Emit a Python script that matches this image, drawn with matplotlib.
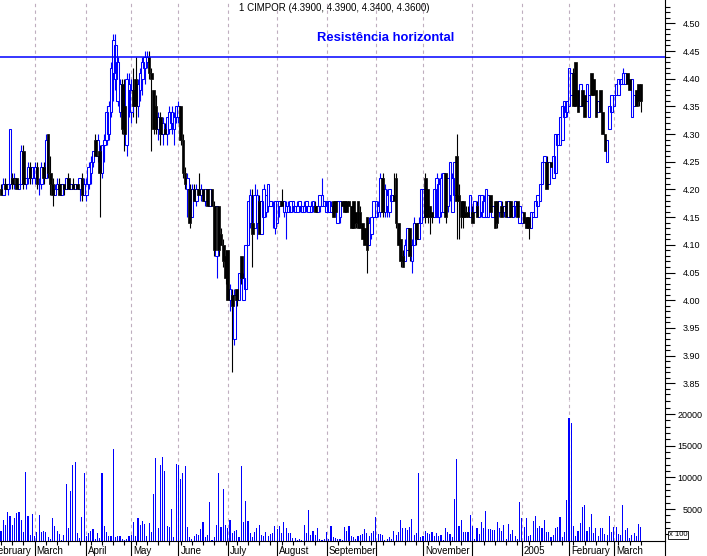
import numpy as np
import matplotlib
matplotlib.use('Agg')
import matplotlib.pyplot as plt
from matplotlib.transforms import blended_transform_factory

# daily OHLC, CIMPOR, Feb 2004 - Mar 2005 (one row per month)
opens = [
    4.20,4.19,4.21,4.20,4.21,4.22,4.21,4.22,4.20,4.21,4.27,4.21,4.22,4.24,4.22,
    4.22,4.24,4.21,4.21,4.24,4.22,4.30,4.23,4.21,4.19,4.20,4.21,4.19,4.21,4.20,4.22,4.20,4.21,4.20,4.21,4.20,4.22,4.19,
    4.19,4.21,4.23,4.25,4.29,4.26,4.27,4.23,4.28,4.29,4.30,4.34,4.41,4.40,4.36,4.34,4.39,4.35,4.28,4.38,
    4.34,4.38,4.40,4.35,4.38,4.40,4.42,4.43,4.44,4.41,4.38,4.35,4.31,4.33,4.30,4.31,4.30,4.31,4.32,4.31,4.33,
    4.33,4.35,4.29,4.23,4.20,4.20,4.15,4.20,4.18,4.20,4.19,4.20,4.18,4.20,4.17,4.20,4.17,4.08,4.17,4.12,4.10,4.08,
    4.09,4.00,4.01,3.93,4.02,4.00,4.08,4.00,4.02,4.10,4.14,4.14,4.13,4.14,4.18,4.12,4.15,4.16,4.17,4.17,4.17,4.13,
    4.14,4.17,4.18,4.16,4.16,4.16,4.16,4.17,4.16,4.16,4.17,4.16,4.16,4.17,4.16,4.16,4.17,4.17,4.16,4.17,4.17,4.17,
    4.16,4.16,4.16,4.18,4.18,4.14,4.15,4.18,4.18,4.18,4.18,4.17,4.18,4.16,4.18,4.16,4.14,4.13,4.15,4.10,4.12,4.15,
    4.15,4.16,4.16,4.22,4.16,4.17,4.16,4.18,4.19,4.22,4.14,4.11,4.08,4.07,4.09,4.13,4.07,4.10,4.14,4.11,4.14,
    4.15,4.22,4.20,4.17,4.16,4.15,4.15,4.15,4.16,4.16,4.23,4.17,4.19,4.16,4.19,4.26,4.19,4.18,4.18,4.16,4.16,4.15,
    4.16,4.16,4.17,4.15,4.16,4.15,4.15,4.15,4.19,4.15,4.18,4.18,4.16,4.17,4.16,4.18,4.15,4.18,4.15,4.17,4.18,4.14,
    4.14,4.16,4.15,4.15,4.13,4.15,4.15,4.17,4.18,4.21,4.25,4.25,4.21,4.25,4.22,4.23,4.28,4.28,4.29,4.33,4.34,
    4.35,4.37,4.41,4.43,4.38,4.35,4.38,4.37,4.36,4.33,4.41,4.40,4.38,4.34,4.38,4.34,4.30,4.25,4.31,4.34,
    4.35,4.37,4.37,4.39,4.39,4.39,4.41,4.40,4.33,4.35,4.38,4.39,4.39,
]
highs = [
    4.21,4.22,4.22,4.21,4.31,4.23,4.23,4.22,4.21,4.28,4.28,4.22,4.25,4.25,4.24,
    4.25,4.25,4.22,4.25,4.25,4.30,4.30,4.26,4.22,4.21,4.22,4.22,4.21,4.21,4.22,4.23,4.21,4.22,4.21,4.21,4.22,4.23,4.22,
    4.22,4.25,4.26,4.27,4.30,4.30,4.28,4.28,4.30,4.35,4.36,4.43,4.48,4.48,4.44,4.40,4.40,4.40,4.41,4.41,
    4.40,4.42,4.44,4.40,4.42,4.44,4.45,4.45,4.45,4.42,4.38,4.37,4.34,4.34,4.33,4.32,4.33,4.35,4.35,4.34,4.35,
    4.36,4.35,4.30,4.24,4.23,4.21,4.21,4.21,4.21,4.23,4.21,4.20,4.20,4.20,4.20,4.20,4.18,4.17,4.17,4.13,4.11,4.09,
    4.09,4.03,4.02,4.02,4.02,4.05,4.08,4.05,4.10,4.18,4.20,4.20,4.21,4.20,4.19,4.18,4.21,4.19,4.21,4.18,4.18,4.18,
    4.18,4.18,4.20,4.18,4.18,4.18,4.18,4.18,4.17,4.18,4.18,4.17,4.18,4.18,4.17,4.18,4.18,4.18,4.17,4.19,4.22,4.18,
    4.18,4.18,4.18,4.18,4.18,4.18,4.18,4.18,4.18,4.18,4.18,4.17,4.18,4.16,4.18,4.17,4.14,4.13,4.15,4.15,4.15,4.18,
    4.18,4.18,4.23,4.23,4.21,4.20,4.20,4.19,4.23,4.23,4.14,4.11,4.09,4.11,4.13,4.13,4.11,4.15,4.14,4.15,4.20,
    4.20,4.23,4.20,4.17,4.16,4.20,4.23,4.22,4.23,4.23,4.23,4.22,4.25,4.23,4.25,4.30,4.21,4.18,4.18,4.17,4.17,4.19,
    4.17,4.18,4.18,4.19,4.19,4.19,4.20,4.19,4.19,4.17,4.18,4.18,4.18,4.18,4.17,4.18,4.18,4.18,4.17,4.18,4.18,4.17,
    4.16,4.16,4.15,4.15,4.16,4.16,4.18,4.19,4.21,4.25,4.26,4.26,4.25,4.25,4.26,4.30,4.30,4.33,4.35,4.36,4.36,
    4.42,4.41,4.42,4.43,4.38,4.39,4.38,4.37,4.39,4.37,4.41,4.40,4.38,4.36,4.38,4.34,4.30,4.29,4.35,4.37,
    4.37,4.39,4.40,4.40,4.42,4.41,4.41,4.40,4.40,4.37,4.38,4.39,4.39,
]
lows = [
    4.19,4.19,4.19,4.19,4.20,4.20,4.20,4.20,4.20,4.21,4.20,4.20,4.21,4.21,4.21,
    4.21,4.20,4.19,4.20,4.21,4.22,4.22,4.19,4.17,4.19,4.20,4.19,4.19,4.19,4.20,4.20,4.20,4.20,4.20,4.20,4.18,4.18,4.19,
    4.18,4.20,4.21,4.24,4.26,4.25,4.15,4.22,4.25,4.28,4.29,4.33,4.36,4.38,4.35,4.33,4.30,4.27,4.26,4.33,
    4.32,4.33,4.32,4.33,4.36,4.37,4.39,4.42,4.40,4.27,4.30,4.30,4.29,4.28,4.28,4.30,4.28,4.30,4.30,4.28,4.32,
    4.32,4.28,4.22,4.20,4.15,4.13,4.15,4.18,4.17,4.19,4.18,4.18,4.17,4.17,4.17,4.17,4.08,4.04,4.08,4.10,4.06,4.03,
    4.00,3.98,3.87,3.92,3.99,4.00,4.03,4.00,4.02,4.10,4.13,4.06,4.13,4.11,4.12,4.12,4.15,4.15,4.16,4.17,4.13,4.12,
    4.14,4.15,4.17,4.15,4.11,4.16,4.16,4.16,4.16,4.16,4.16,4.16,4.16,4.16,4.16,4.16,4.16,4.16,4.16,4.16,4.17,4.17,
    4.16,4.16,4.16,4.15,4.15,4.14,4.14,4.17,4.16,4.16,4.17,4.13,4.13,4.13,4.13,4.13,4.11,4.10,4.05,4.10,4.11,4.15,
    4.15,4.15,4.15,4.15,4.15,4.15,4.15,4.18,4.18,4.13,4.10,4.06,4.06,4.07,4.09,4.07,4.05,4.10,4.10,4.11,4.14,
    4.15,4.14,4.14,4.12,4.14,4.15,4.15,4.14,4.15,4.16,4.14,4.16,4.18,4.16,4.19,4.11,4.11,4.13,4.13,4.15,4.15,4.15,
    4.14,4.16,4.15,4.15,4.15,4.15,4.15,4.15,4.16,4.15,4.13,4.13,4.15,4.15,4.15,4.15,4.15,4.15,4.15,4.15,4.15,4.14,
    4.14,4.14,4.13,4.11,4.13,4.15,4.15,4.17,4.18,4.21,4.25,4.20,4.21,4.24,4.22,4.23,4.28,4.28,4.29,4.33,4.33,
    4.35,4.37,4.35,4.35,4.34,4.35,4.35,4.33,4.36,4.33,4.37,4.37,4.33,4.34,4.34,4.30,4.27,4.25,4.31,4.34,
    4.35,4.37,4.37,4.39,4.39,4.39,4.39,4.38,4.33,4.35,4.35,4.35,4.34,
]
closes = [
    4.19,4.21,4.20,4.21,4.31,4.21,4.22,4.20,4.21,4.27,4.21,4.22,4.24,4.22,4.24,
    4.24,4.21,4.21,4.24,4.22,4.29,4.23,4.21,4.19,4.20,4.21,4.19,4.21,4.20,4.22,4.20,4.21,4.20,4.21,4.20,4.22,4.19,4.21,
    4.21,4.24,4.25,4.27,4.26,4.29,4.23,4.28,4.29,4.34,4.35,4.42,4.47,4.46,4.43,4.39,4.31,4.30,4.40,4.39,
    4.38,4.35,4.35,4.39,4.41,4.43,4.44,4.44,4.41,4.40,4.31,4.31,4.33,4.30,4.32,4.30,4.33,4.34,4.34,4.33,4.35,
    4.35,4.29,4.23,4.21,4.22,4.14,4.20,4.18,4.20,4.19,4.20,4.18,4.20,4.17,4.20,4.17,4.09,4.17,4.09,4.10,4.07,4.04,
    4.00,4.02,3.99,4.01,4.00,4.05,4.04,4.04,4.10,4.18,4.19,4.12,4.19,4.19,4.12,4.18,4.20,4.19,4.21,4.18,4.17,4.18,
    4.18,4.18,4.17,4.18,4.17,4.17,4.18,4.18,4.17,4.17,4.18,4.17,4.17,4.18,4.17,4.17,4.18,4.16,4.17,4.19,4.19,4.18,
    4.18,4.18,4.17,4.15,4.16,4.18,4.18,4.17,4.16,4.16,4.17,4.13,4.13,4.14,4.13,4.13,4.11,4.10,4.09,4.14,4.15,4.18,
    4.18,4.17,4.22,4.16,4.20,4.19,4.20,4.19,4.18,4.14,4.10,4.07,4.06,4.10,4.13,4.08,4.10,4.14,4.11,4.14,4.20,
    4.20,4.15,4.15,4.15,4.15,4.20,4.22,4.21,4.22,4.23,4.15,4.22,4.25,4.22,4.25,4.18,4.18,4.15,4.15,4.15,4.15,4.19,
    4.14,4.18,4.15,4.19,4.19,4.18,4.20,4.19,4.16,4.17,4.13,4.14,4.18,4.15,4.17,4.15,4.18,4.15,4.17,4.18,4.15,4.17,
    4.16,4.14,4.13,4.13,4.16,4.16,4.18,4.19,4.21,4.25,4.26,4.20,4.25,4.24,4.26,4.30,4.30,4.33,4.35,4.36,4.36,
    4.42,4.41,4.35,4.35,4.34,4.39,4.35,4.33,4.39,4.37,4.37,4.37,4.33,4.36,4.34,4.30,4.27,4.29,4.35,4.37,
    4.37,4.39,4.40,4.40,4.41,4.41,4.39,4.38,4.40,4.37,4.35,4.36,4.36,
]
# volume in units of 100 shares
volume = [
    1580,3310,2520,4580,3950,2520,3630,4420,4580,3310,
    1420,10890,3950,950,4260,790,1420,4100,1420,1580,
    1420,630,320,3630,2370,1580,1100,160,950,8990,
    2050,7890,11990,12470,1260,470,3790,10730,790,1260,
    1580,1890,320,1260,470,10730,2370,1420,790,790,
    14520,630,790,790,320,160,320,790,950,3000,790,3630,
    2520,3160,2680,800,2840,1420,7420,13100,2050,11990,13260,
    11050,2370,2210,5050,630,12150,11990,9780,10730,11840,
    2210,630,320,790,1100,950,1890,3000,630,950,
    6150,160,630,2520,10730,2210,8210,2520,2050,3310,
    1260,1580,1740,630,11840,3000,6310,3160,1260,630,
    1420,2050,2520,950,790,1420,790,1100,1260,2370,
    1890,2370,1260,3000,2050,1260,1260,470,470,160,
    320,160,2520,1260,4890,950,1580,950,2050,320,160,
    320,1420,320,2370,630,470,320,320,160,2210,1580,
    2370,
    790,630,300,790,950,1100,1890,1260,790,1260,1580,
    3790,1100,1100,950,160,320,630,320,1580,950,
    1420,3310,2050,2050,1740,2210,3470,950,1260,10730,
    630,790,1580,1260,1100,1420,790,1260,790,950,
    160,2050,1420,1100,630,6630,12940,2370,3310,1420,
    1420,1420,4100,2370,320,2050,1100,3000,2050,4730,
    1890,1890,1740,1740,3000,2050,1580,2520,320,2680,
    1100,1740,790,320,6150,3630,2210,3630,790,950,
    3160,3950,2050,2370,2050,3310,1420,1420,630,950,
    2050,2210,3790,630,1420,6470,19410,18620,2370,790,
    1580,2840,5370,5680,1580,2210,4260,1260,2050,790,
    2050,2050,1100,950,3950,1420,2210,2210,1100,950,
    5680,1740,2050,470,950,1260,790,2680,2210,
]

# trading days per month shown, first February starts 5 sessions before the chart
month_days = [15, 23, 20, 21, 22, 22, 22, 22, 21, 22, 22, 21, 20, 13]
month_labels = ['February', 'March', 'April', 'May', 'June', 'July', 'August',
                'September', '', 'November', '', '2005', 'February', 'March']
resistance = 4.44

o = np.array(opens); h = np.array(highs); l = np.array(lows); c = np.array(closes)
v = np.array(volume)
x = np.arange(len(o))
up = c >= o
month_start = np.concatenate([[-5], np.cumsum(month_days)[:-1]])

plt.rcParams['font.family'] = ['Liberation Sans', 'DejaVu Sans']

BLUE = '#0000ff'
GRID = '#bfaebf'

fig = plt.figure(figsize=(7.07, 5.56), dpi=100)
ax = fig.add_axes([0, 156 / 556, 665 / 707, 400 / 556])
axv = fig.add_axes([0, 15.3 / 556, 665 / 707, 140.7 / 556], sharex=ax)

xlim = (-1 / 2.245, 664 / 2.245)

for a in (ax, axv):
    for m in month_start[1:]:
        a.axvline(m, color=GRID, lw=0.8, ls=(0, (3, 3)), zorder=0)
    a.spines['top'].set_visible(False)
    a.spines['left'].set_visible(False)
    a.yaxis.tick_right()
    a.tick_params(axis='y', which='major', length=7, width=0.8, labelsize=6.5, pad=6)
    a.tick_params(axis='y', which='minor', length=3.5, width=0.8)

# candles
col = np.where(up, BLUE, 'black')
top = np.maximum(o, c); bot = np.minimum(o, c)
ax.vlines(x, top, h, colors=col, lw=0.8, zorder=2)
ax.vlines(x, l, bot, colors=col, lw=0.8, zorder=2)
ax.bar(x[up], (c - o)[up], bottom=o[up], width=1.15, facecolor='none',
       edgecolor=BLUE, linewidth=0.75, zorder=3)
ax.bar(x[~up], (c - o)[~up], bottom=o[~up], width=1.15, facecolor='black',
       edgecolor='black', linewidth=0.5, zorder=3)
ax.axhline(resistance, color=BLUE, lw=1.1, zorder=4)

ax.set_ylim(3.8198, 4.5421)
ax.set_yticks(np.arange(3.85, 4.501, 0.05))
ax.set_yticks(np.arange(3.83, 4.54, 0.01), minor=True)
ax.yaxis.set_major_formatter(matplotlib.ticker.FormatStrFormatter('%.2f'))
ax.spines['bottom'].set_visible(False)
ax.tick_params(axis='x', which='both', bottom=False, labelbottom=False)

ax.text(0.503, 1 - 8 / 400, '1 CIMPOR (%.4f, %.4f, %.4f, %.4f)' % (o[-1], h[-1], l[-1], c[-1]),
        transform=ax.transAxes, ha='center', va='center', fontsize=7)
ax.text(386 / 665, 1 - 38 / 400, 'Resistência horizontal', transform=ax.transAxes,
        ha='center', va='center', fontsize=9.4, fontweight='bold', color=BLUE)

# volume
axv.bar(x, v, width=0.5, color=BLUE, zorder=2)
axv.set_ylim(0, 22220)
axv.set_yticks([5000, 10000, 15000, 20000])
axv.set_yticks(np.arange(1000, 22001, 1000), minor=True)
axv.set_xticks(list(month_start) + [xlim[1]])
axv.set_xticks(np.arange(0, len(o), 5), minor=True)
axv.tick_params(axis='x', which='major', length=11, width=0.8, labelbottom=False)
axv.tick_params(axis='x', which='minor', length=3, width=0.8)
for lab in axv.get_yticklabels():
    lab.set_horizontalalignment('right')
axv.tick_params(axis='y', which='major', pad=20)

# x limits last, set_xticks would widen them otherwise
ax.set_xlim(*xlim)

tr = blended_transform_factory(axv.transData, fig.transFigure)
for m, lab in zip(month_start, month_labels):
    axv.text(m + 0.9, 1 - 551 / 556, lab, transform=tr, ha='left', va='center',
             fontsize=7, clip_on=False)

fig.text(669 / 707, 1 - 535 / 556, 'x 100', ha='left', va='center', fontsize=5.5,
         bbox=dict(boxstyle='square,pad=0.12', facecolor='white', edgecolor='black', lw=0.6))

fig.savefig('out.png', dpi=100)
